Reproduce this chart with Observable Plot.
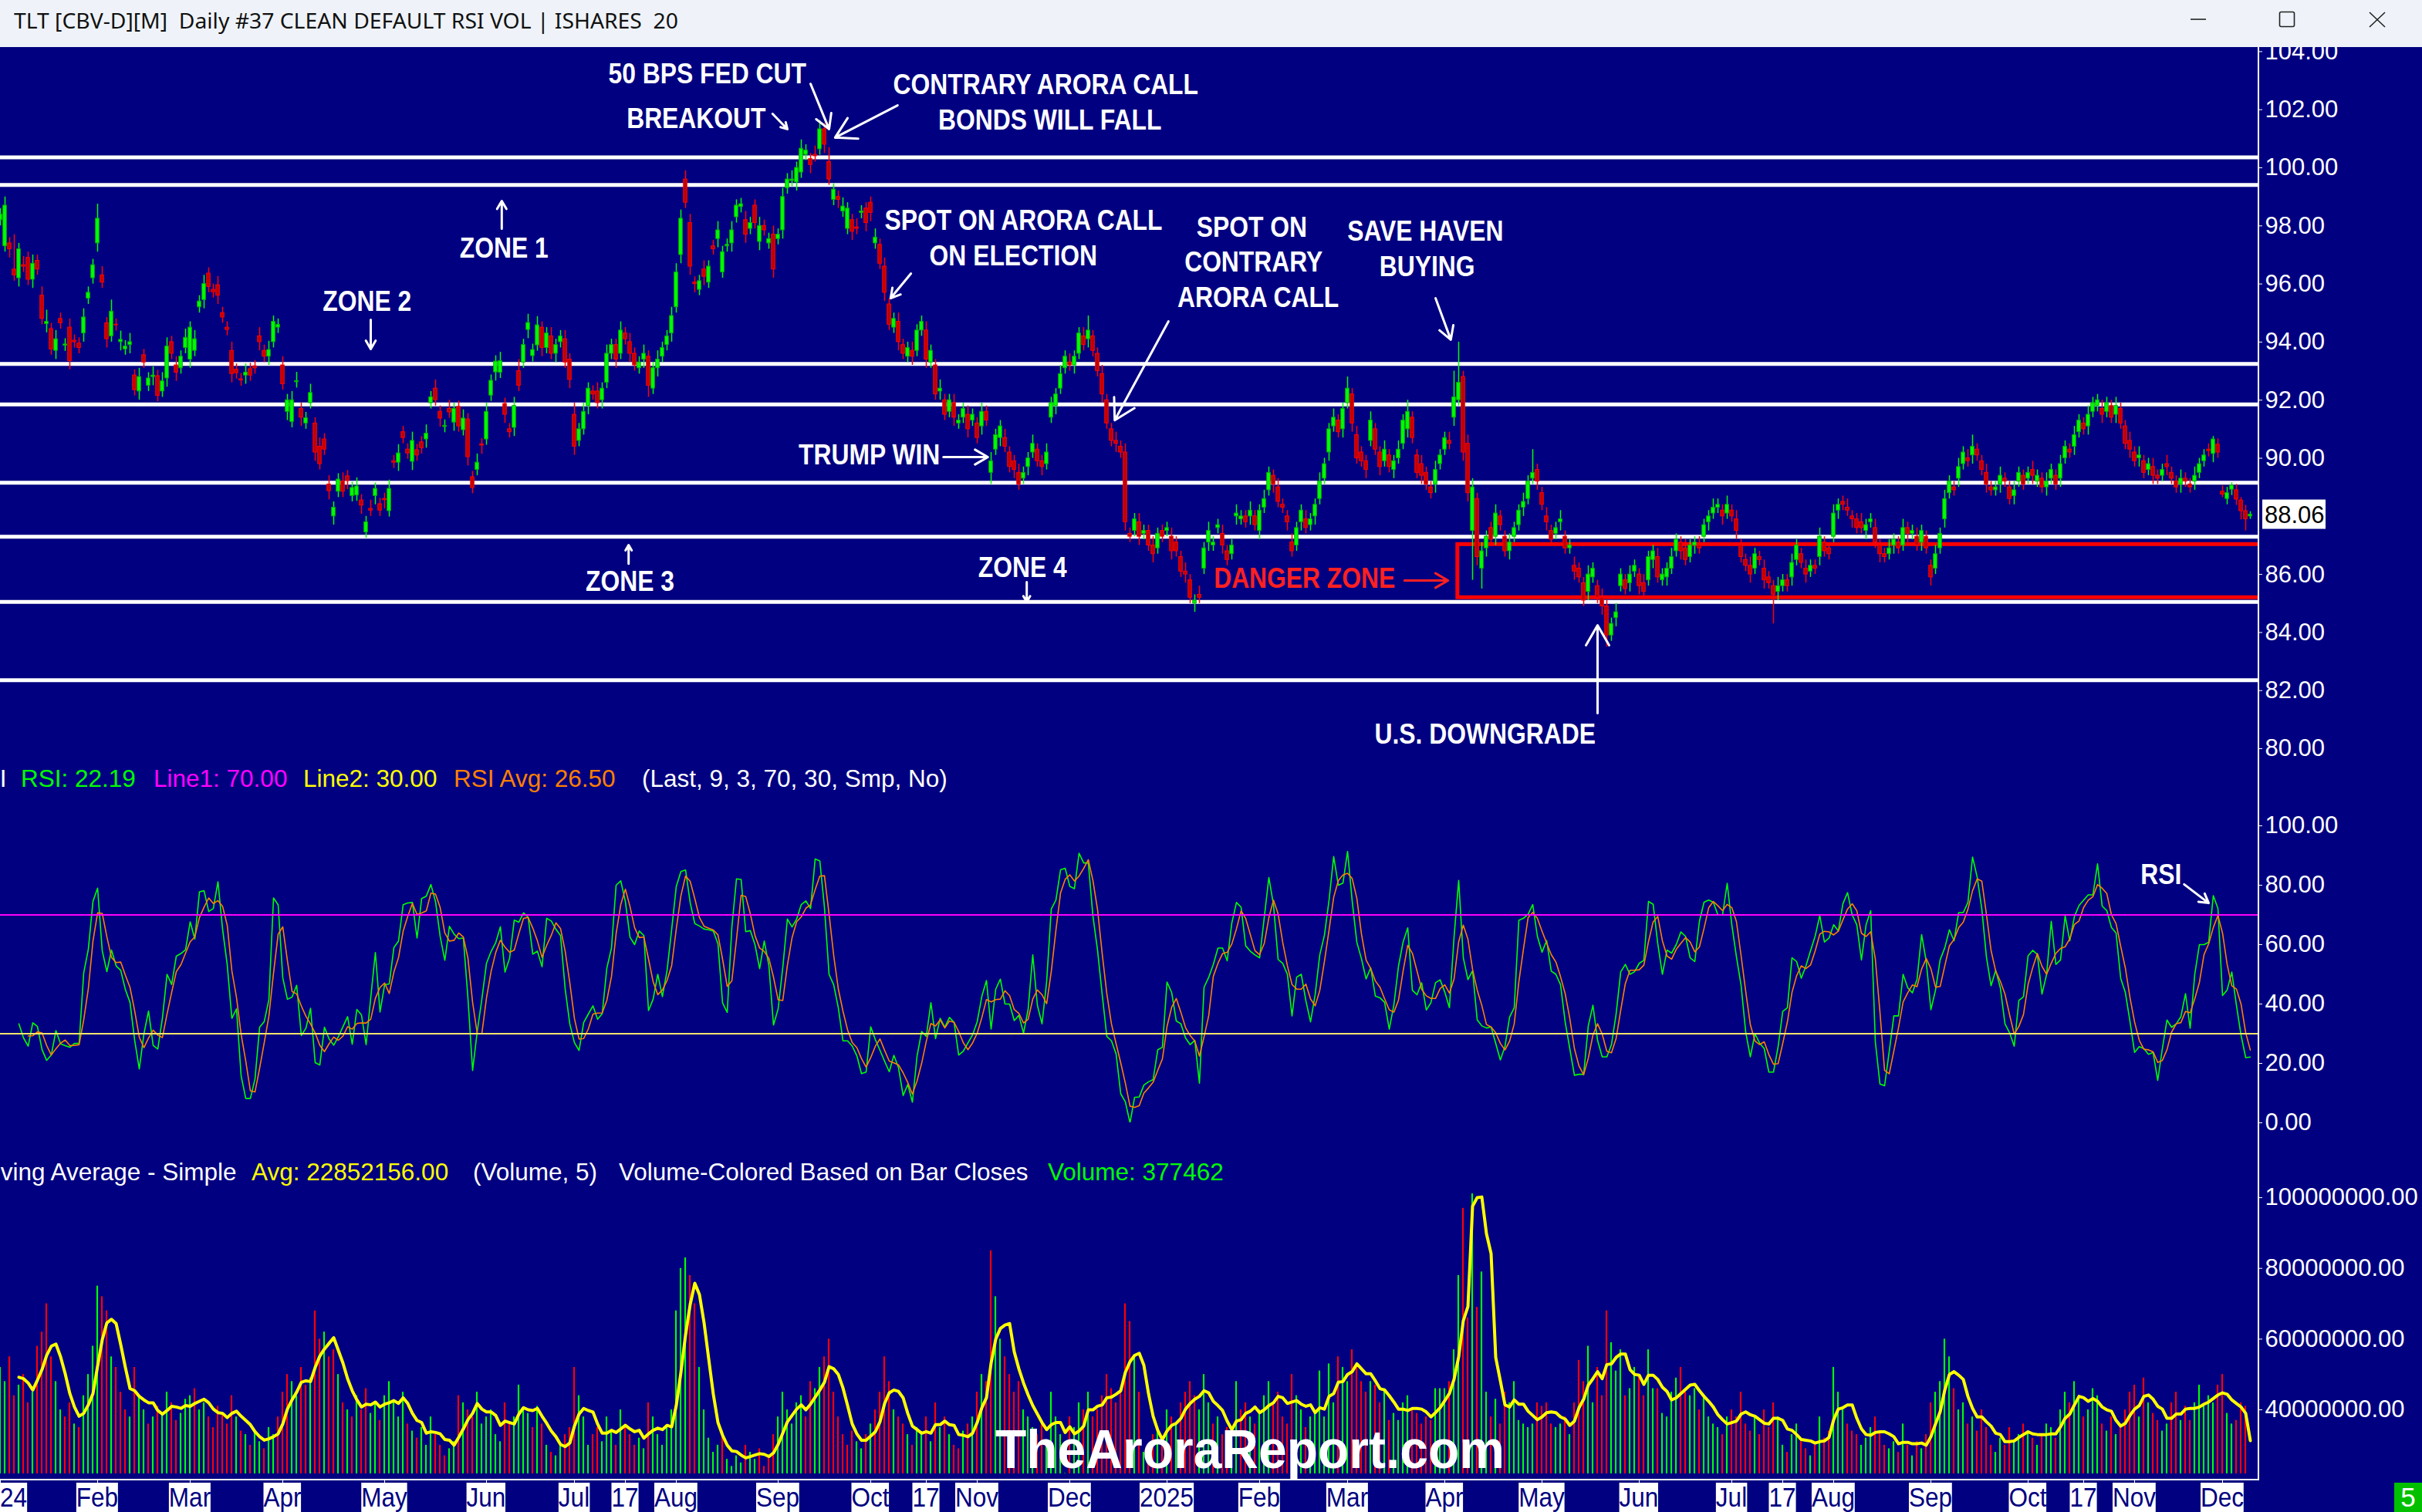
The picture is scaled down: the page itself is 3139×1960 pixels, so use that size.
<!DOCTYPE html>
<html>
<head>
<meta charset="utf-8">
<script src="https://cdn.jsdelivr.net/npm/d3@7"></script>
<script src="https://cdn.jsdelivr.net/npm/@observablehq/plot@0.6"></script>
<style>
  html, body { margin:0; padding:0; }
  body { width:3139px; height:1960px; background:#000080; position:relative; overflow:hidden; font-family:"Liberation Sans", Arial, sans-serif; }
  .abs { position:absolute; }
  #titlebar { left:0; top:0; width:3139px; height:61px; background:#eff3f9; z-index:5; }
  #title { left:18px; top:12px; font-family:"Noto Sans","Liberation Sans",sans-serif; font-size:28px; line-height:1; color:#111; white-space:pre; transform-origin:0 0; }
  .leg { font-size:31.5px; line-height:1; white-space:pre; }
  .xl { top:1922px; height:38px; line-height:38px; font-size:35px; color:#000080; background:#fff; white-space:pre; transform-origin:0 0; }
  .panel { left:0; width:3139px; }
</style>
</head>
<body>
<div id="titlebar" class="abs">
  <div id="title" class="abs">TLT [CBV-D][M]  Daily #37 CLEAN DEFAULT RSI VOL | ISHARES  20</div>
  <svg class="abs" style="left:2800px;top:0" width="339" height="61">
    <line x1="39" y1="25" x2="59" y2="25" stroke="#222" stroke-width="1.6"/>
    <rect x="154.5" y="15.5" width="19" height="19" rx="2" fill="none" stroke="#222" stroke-width="1.6"/>
    <line x1="271" y1="16" x2="291" y2="35" stroke="#222" stroke-width="1.6"/>
    <line x1="291" y1="16" x2="271" y2="35" stroke="#222" stroke-width="1.6"/>
  </svg>
</div>
<div id="price" class="abs panel" style="top:61px"></div>
<div id="rsi" class="abs panel" style="top:1030px"></div>
<div id="vol" class="abs panel" style="top:1540px"></div>

<script>
// ---------------- DATA ----------------
// Daily bars, 2 Jan 2024 .. 9 Dec 2025 (487 trading days)
const open = [
// 2024 Jan
98.2,97.3,97.4,96.5,96.2,96.65,96.9,96.15,96.8,95.6,94.62,94.45,93.7,94.8,93.88,94.5,94.05,93.95,94.3,95.5,96.2,
// Feb
97.4,96.3,94.65,94.2,94.6,94.0,93.75,93.9,92.85,92.3,93.55,92.5,92.8,92.83,92.3,92.75,94.0,93.2,93.1,93.8,
// Mar
93.4,93.7,95.2,95.45,96.36,95.8,95.96,95.0,94.5,93.7,93.05,92.72,92.85,93.07,93.17,94.2,93.7,93.5,94.0,94.5,
// Apr
93.2,91.6,91.25,92.62,91.7,91.2,91.9,91.2,90.4,90.65,89.1,88.0,88.85,89.2,89.38,88.7,88.72,88.55,87.45,88.26,88.7,88.42,
// May
88.6,88.18,89.9,89.85,90.9,90.3,89.88,90.28,90.55,90.65,91.9,92.4,91.6,91.08,91.7,91.23,91.77,90.97,91.34,89.35,89.6,90.48,
// Jun
90.65,92.16,92.96,92.95,91.87,91.0,91.05,93.0,93.3,94.42,93.52,93.89,94.5,93.8,94.2,93.6,94.0,94.1,93.4,
// Jul
91.5,90.6,91.0,91.8,92.3,92.3,92.0,92.6,93.6,93.9,93.6,94.3,94.0,93.6,93.1,93.4,93.5,92.4,93.1,93.5,93.9,94.3,
// Aug
95.2,97.0,99.6,98.1,96.05,95.8,96.5,96.05,97.3,97.55,96.4,97.3,97.4,98.3,98.65,98.2,97.9,98.7,97.45,98.0,97.4,97.7,
// Sep
97.55,97.85,99.3,99.55,99.5,99.84,100.45,100.3,100.45,100.64,101.33,100.2,98.9,99.0,98.5,97.9,98.2,97.95,98.45,98.6,
// Oct
98.8,97.4,97.35,96.6,95.3,94.5,94.7,93.9,93.5,93.7,93.7,94.4,94.4,93.3,93.2,92.3,92.0,91.6,91.9,91.2,91.4,91.5,91.3,
// Nov
91.2,91.1,91.6,89.5,90.3,90.7,90.7,90.2,89.9,89.5,89.3,89.7,90.2,90.3,89.9,89.8,91.4,91.8,92.4,93.1,
// Dec
93.3,93.2,93.6,94.2,94.1,94.2,93.6,92.9,92.0,91.0,90.6,90.4,90.2,87.4,87.5,87.8,87.4,87.5,87.0,86.9,87.5,
// 2025 Jan
87.5,87.3,87.1,86.6,86.1,85.8,85.0,85.3,86.2,87.1,87.0,87.6,87.4,86.8,86.7,88.0,87.9,88.0,88.0,88.0,
// Feb
87.5,88.3,88.9,89.4,89.0,88.4,88.0,87.1,87.0,87.8,87.9,87.7,88.0,88.6,89.3,90.2,91.1,91.3,91.0,
// Mar
91.9,92.2,90.8,90.2,89.9,90.6,91.0,90.2,89.9,90.1,89.6,90.0,90.5,91.0,91.4,90.1,89.8,89.5,89.0,89.1,89.8,
// Apr
90.3,90.6,91.4,92.0,92.8,90.5,87.5,88.6,86.2,86.9,87.6,87.3,88.0,87.3,86.8,87.3,87.7,88.3,88.6,89.3,89.6,
// May
88.8,88.0,87.5,87.4,87.8,87.3,86.9,86.3,86.2,85.7,85.4,85.9,85.6,85.2,84.9,83.9,84.5,85.6,85.8,85.7,86.1,
// Jun
86.0,85.7,85.8,86.5,86.6,85.8,85.9,86.2,86.8,87.1,86.9,86.6,87.0,87.0,87.3,87.8,88.1,88.3,88.2,88.1,
// Jul
88.2,87.9,87.0,86.5,86.3,86.2,86.6,86.2,85.9,85.6,85.4,85.6,85.8,85.9,86.5,86.7,86.2,86.1,86.3,86.6,87.1,86.9,
// Aug
87.3,88.2,88.5,88.3,88.0,87.9,87.8,87.5,87.8,87.6,87.0,86.7,86.7,87.0,87.1,87.0,87.6,87.4,87.3,87.1,87.3,
// Sep
86.3,86.2,86.9,87.9,88.8,89.0,89.3,89.8,90.0,90.1,90.3,89.9,89.5,89.0,88.9,89.1,89.3,89.0,88.7,89.2,89.4,
// Oct
89.3,89.6,89.2,89.3,89.0,89.3,89.4,89.3,90.0,90.3,90.4,90.9,91.2,91.1,91.6,91.8,91.7,91.6,91.8,91.5,91.7,91.1,90.6,
// Nov
90.2,90.0,89.9,89.6,89.7,89.4,89.4,89.8,89.5,89.2,89.1,89.3,89.1,89.2,89.5,89.9,90.3,90.15,90.47,
// Dec
88.85,88.6,88.92,88.9,88.55,88.18,88.0
];
const close = [
// 2024 Jan
98.4,98.7,97.2,96.3,97.2,96.6,96.15,96.7,96.5,94.8,94.7,93.75,94.1,94.65,93.92,93.35,94.0,93.8,94.85,95.7,96.65,
// Feb
98.25,96.05,94.1,95.05,94.58,94.08,93.85,94.0,92.35,92.8,93.3,92.75,92.85,92.15,92.65,93.85,93.6,92.95,93.5,94.15,
// Mar
94.5,94.1,95.4,96.0,95.9,95.72,95.6,94.85,94.42,92.9,92.93,92.68,92.95,92.85,93.1,94.0,93.5,93.73,94.7,94.6,
// Apr
92.55,92.0,92.0,92.66,91.4,91.38,92.25,90.2,89.8,90.3,88.87,88.3,89.27,88.85,89.22,88.98,89.03,88.37,87.8,88.2,88.95,88.2,
// May
88.56,88.95,89.85,90.17,90.7,90.17,90.6,90.1,90.35,90.85,92.1,92.0,91.37,91.12,91.58,91.7,91.1,91.37,90.04,88.98,89.85,90.44,
// Jun
91.6,92.67,93.33,93.35,91.5,90.9,91.8,92.5,93.9,94.66,93.73,94.58,93.8,94.3,93.6,93.9,94.2,93.3,92.7,
// Jul
90.4,91.0,91.6,92.4,92.2,91.9,92.4,93.6,93.9,93.4,94.4,94.1,93.6,93.2,93.3,93.6,92.5,93.1,93.4,93.8,94.2,94.9,
// Aug
96.4,98.25,98.8,96.6,96.0,96.1,96.25,96.6,97.2,97.85,97.1,97.35,97.85,98.7,98.75,97.7,98.1,98.1,98.0,97.85,97.55,96.5,
// Sep
97.7,99.0,99.6,99.6,100.0,100.66,100.6,100.1,100.4,101.33,100.8,99.6,99.25,98.9,98.67,98.6,97.8,97.9,98.5,98.1,
// Oct
98.45,97.6,96.7,95.7,94.6,94.8,94.0,93.6,93.8,93.5,94.4,94.7,93.4,93.7,92.2,92.4,91.5,92.0,91.4,91.3,91.7,91.0,91.5,
// Nov
90.7,91.6,91.3,89.9,90.8,91.1,90.4,89.7,89.6,89.1,89.5,90.0,90.5,89.9,89.7,90.2,91.9,92.2,92.9,93.5,
// Dec
93.2,93.5,94.3,93.9,94.4,93.7,93.0,92.2,91.2,90.6,90.5,90.2,87.8,87.3,87.9,87.3,87.5,87.0,86.7,87.4,87.3,
// 2025 Jan
87.6,86.8,86.8,86.1,86.0,85.2,85.1,85.2,86.9,87.5,87.1,87.7,87.0,86.5,87.0,88.1,88.0,87.8,88.2,87.7,
// Feb
88.2,88.6,89.5,89.1,88.5,88.3,87.8,86.8,87.6,88.2,87.6,87.9,88.4,89.2,89.8,91.0,91.4,90.9,91.7,
// Mar
92.4,91.2,90.0,89.9,89.6,91.3,90.3,89.7,90.3,89.7,89.9,90.3,91.3,91.6,90.7,89.5,89.4,89.1,88.8,89.6,90.1,
// Apr
90.7,90.5,92.1,92.6,90.2,88.8,89.0,86.6,86.8,87.3,87.2,88.1,87.7,86.8,87.1,87.6,88.2,88.5,89.2,89.5,89.2,
// May
88.4,87.8,87.2,87.6,87.9,86.9,87.0,86.1,85.9,85.1,86.0,86.2,85.2,84.9,83.9,84.3,84.7,86.0,85.5,86.0,86.3,
// Jun
85.6,85.4,86.6,86.8,85.9,86.0,86.2,86.6,87.2,86.8,86.5,87.0,87.1,86.9,87.7,88.0,88.3,88.4,88.0,88.4,
// Jul
88.0,87.5,86.6,86.3,86.0,86.7,86.5,85.8,85.7,85.3,85.6,85.8,85.6,86.4,87.0,86.4,86.0,86.3,86.2,87.3,86.8,86.7,
// Aug
88.1,88.4,88.4,88.2,87.9,87.6,87.6,87.7,87.9,87.1,86.7,86.6,86.9,87.2,86.9,87.6,87.4,87.5,87.0,87.5,86.9,
// Sep
85.9,86.7,87.4,88.6,89.2,88.9,89.7,90.2,89.9,90.4,90.1,89.6,89.1,88.9,89.0,89.4,89.2,88.6,88.9,89.5,89.1,
// Oct
89.5,89.4,89.4,89.0,89.2,89.6,89.1,89.8,90.4,90.2,90.8,91.3,91.0,91.5,91.9,92.0,91.5,91.9,91.4,91.8,91.2,90.5,90.3,
// Nov
89.9,90.1,89.5,89.8,89.4,89.3,89.6,89.7,89.3,89.0,89.3,89.2,89.0,89.4,89.8,90.1,90.25,90.65,90.2,
// Dec
88.75,88.8,89.06,88.58,88.18,87.9,88.06
];
// wick lengths above / below the body, in tenths of a dollar
const wickUp = [
2,3,2,12,2,3,2,3,2,3,4,2,3,2,2,3,2,2,3,2,2,
5,3,2,4,2,3,2,3,2,3,2,2,3,2,3,3,2,3,2,3,
2,3,2,3,2,2,3,2,2,3,2,2,3,2,2,3,2,3,2,2,
3,2,3,3,2,2,3,2,3,2,3,2,2,3,2,2,3,2,2,3,2,2,
2,3,2,3,2,2,3,2,2,3,2,3,2,2,3,2,2,3,2,2,3,2,
3,2,2,3,2,2,3,4,2,3,2,3,2,2,3,2,2,3,2,
4,2,3,2,2,3,2,3,2,2,3,2,3,2,2,3,2,2,3,2,2,3,
3,3,3,3,2,2,3,2,2,3,2,2,3,2,2,3,2,2,3,2,2,3,
2,3,2,3,2,3,2,2,3,3,2,5,2,2,3,2,2,3,2,2,
2,3,2,3,2,2,3,2,2,3,2,2,3,2,2,3,2,2,3,2,2,3,2,
2,3,2,3,2,2,3,2,2,3,2,2,3,2,2,3,2,2,3,2,
3,2,2,3,5,2,2,3,2,2,3,2,3,2,2,3,2,2,3,2,2,
2,3,2,2,3,2,2,3,2,3,2,2,3,2,2,3,2,2,3,2,
2,3,2,2,3,2,2,3,2,2,3,2,2,3,2,2,3,2,2,
4,2,3,2,2,3,2,2,3,2,2,3,2,4,2,2,3,2,2,3,2,
2,3,9,14,2,3,3,2,3,2,2,3,2,2,3,2,2,3,2,8,2,
2,3,2,2,3,2,2,3,2,2,3,2,2,3,2,2,3,2,2,3,2,
2,3,2,2,3,2,2,3,2,2,3,2,2,3,2,2,3,2,2,3,
2,3,2,2,3,2,2,3,2,2,3,2,2,3,2,2,3,2,2,3,2,2,
3,2,2,3,2,2,3,2,2,3,2,2,3,2,2,3,2,2,3,2,2,
2,3,2,3,2,2,3,2,3,4,2,2,3,2,2,3,2,2,3,2,2,
2,3,2,2,3,2,2,3,2,2,3,2,2,3,2,2,3,2,2,3,2,2,3,
2,3,2,2,3,2,2,3,2,2,3,2,2,3,2,2,2,1,2,
2,2,1,2,1,2,1
];
const wickDn = [
2,2,3,2,3,2,2,3,2,2,3,2,3,2,2,3,2,2,3,2,2,
3,2,3,2,2,3,2,3,2,3,2,2,3,2,2,3,2,3,2,2,
3,2,2,3,2,2,3,2,2,3,2,2,3,2,2,3,2,3,2,2,
2,3,2,2,3,2,2,3,2,2,3,3,2,2,3,2,2,3,2,2,3,2,
3,2,2,3,2,2,3,2,2,3,2,2,3,2,2,3,2,2,3,2,2,3,
2,2,3,2,3,2,3,2,2,3,2,2,3,2,2,3,2,2,3,
3,2,2,3,2,2,3,2,2,3,2,2,3,2,2,3,4,2,3,2,2,3,
2,3,2,3,3,2,3,2,2,3,2,2,3,2,2,3,2,2,3,2,2,3,
2,3,2,2,3,2,2,3,2,2,3,2,2,3,2,2,3,2,2,3,
3,2,2,3,2,2,3,2,2,3,2,2,3,2,2,3,2,2,3,2,2,3,2,
2,3,2,4,2,3,2,2,3,2,2,3,2,2,3,2,2,3,2,2,
2,3,2,2,3,2,2,3,2,2,3,2,3,2,2,3,2,2,3,2,2,
2,3,2,2,3,2,3,2,2,3,2,2,3,2,2,3,2,2,3,2,
3,2,2,3,2,2,3,2,2,3,2,2,3,2,2,3,2,2,3,
2,3,2,2,3,2,2,3,2,2,3,2,2,3,2,2,3,2,2,3,2,
2,2,3,2,3,3,17,3,7,3,2,3,2,2,3,2,2,3,2,2,3,
2,3,2,2,3,2,2,3,2,2,3,2,2,3,4,2,3,2,2,3,2,
3,2,2,3,2,2,3,2,2,3,2,2,3,2,2,3,2,2,3,2,
2,3,2,2,3,2,2,3,2,10,3,2,2,3,2,2,3,2,2,3,2,2,
2,3,2,2,3,2,2,3,2,2,3,2,2,3,2,2,3,2,2,3,2,
3,2,2,3,2,2,3,2,2,3,2,2,3,2,2,3,2,2,3,2,2,
2,3,2,2,3,2,2,3,2,2,3,2,2,3,2,2,3,2,2,3,2,2,3,
2,3,2,2,3,2,2,3,2,2,3,2,2,3,2,2,2,3,2,
1,2,2,2,3,4,1
];
// daily volume, millions of shares
const volume = [
52,48,55,44,47,50,42,45,58,62,70,55,48,40,38,42,36,35,44,50,58,
75,72,68,55,52,45,40,38,52,44,40,36,38,41,39,45,42,37,39,43,
44,46,40,42,38,35,41,39,36,44,38,34,33,30,34,31,29,35,33,38,
45,50,48,44,52,47,49,68,60,62,55,57,50,42,40,38,44,40,46,39,42,37,
44,48,42,38,45,36,34,32,35,30,38,33,30,27,29,31,44,42,40,38,45,36,
38,40,33,31,42,36,38,47,40,39,35,41,36,30,28,27,30,33,35,
52,44,38,30,33,35,31,38,34,30,40,36,33,30,32,29,42,38,33,30,35,40,
68,80,83,78,70,52,40,32,28,30,34,26,24,27,25,30,28,26,29,24,27,33,
38,45,40,36,42,44,38,48,46,52,55,60,45,38,33,30,34,31,29,33,
36,40,45,55,48,40,38,36,33,30,35,33,38,31,42,35,38,33,30,29,34,36,38,
45,50,48,85,72,60,55,50,45,48,40,38,35,33,36,30,45,38,33,22,
38,35,42,40,45,38,40,44,50,46,42,45,70,65,55,45,28,30,33,35,32,
40,38,36,42,45,48,44,40,50,42,36,38,33,35,30,48,40,42,38,36,
40,44,48,42,45,38,36,50,44,40,35,38,39,51,38,53,42,55,52,
48,57,53,48,45,48,47,42,46,37,39,37,42,44,40,39,36,38,37,46,46,
46,48,57,78,97,66,190,69,79,45,38,43,36,45,42,48,37,36,35,36,42,
41,42,36,35,36,38,33,42,54,48,58,42,52,44,68,59,51,57,44,46,52,
50,44,57,46,46,39,38,45,49,52,45,44,46,40,44,38,36,35,33,38,
40,38,45,36,34,38,33,40,35,42,38,30,28,33,36,31,29,27,30,38,32,34,
52,45,40,36,34,33,30,32,35,38,34,30,29,31,28,36,30,27,31,29,33,
42,45,48,60,55,46,40,42,36,38,34,40,35,30,28,32,30,35,31,33,36,
34,32,30,33,36,35,32,40,45,42,48,44,38,40,46,44,36,34,38,33,36,40,45,
47,38,49,42,39,37,34,36,42,45,37,41,37,42,47,41,44,42,47,
50,39,36,37,42,41,0.38
];
// x-axis labels and the bar index where each sits
const tickLabels = ["2024","Feb","Mar","Apr","May","Jun","Jul","17","Aug","Sep","Oct","17","Nov","Dec",
                    "2025","Feb","Mar","Apr","May","Jun","Jul","17","Aug","Sep","Oct","17","Nov","Dec"];
const tickBars   = [0,21,41,61,83,105,124,135,146,168,188,200,211,231,252,272,291,312,333,354,374,385,396,417,438,450,461,480];
// horizontal support / resistance levels
const levels = [100.36, 99.41, 93.25, 91.85, 89.16, 87.30, 85.05, 82.36];
const dangerZone = [{x1: 314.8, x2: 492, y1: 85.2, y2: 87.03}];
const priceTicks = [80,82,84,86,90,92,94,96,98,100,102,104];
const rsiTicks = [0,20,40,60,80,100];
const volTicks = [40,60,80,100];
// annotations (bar index, price)
const notes = [
 {t:"50 BPS FED CUT", x:152.7, y:103.21},
 {t:"BREAKOUT", x:150.3, y:101.67},
 {t:"CONTRARY ARORA CALL", x:225.8, y:102.84},
 {t:"BONDS WILL FALL", x:226.7, y:101.62},
 {t:"SPOT ON ARORA CALL", x:221, y:98.17},
 {t:"ON ELECTION", x:218.8, y:96.95},
 {t:"SPOT ON", x:270.3, y:97.95},
 {t:"CONTRARY", x:270.7, y:96.73},
 {t:"ARORA CALL", x:271.7, y:95.51},
 {t:"SAVE HAVEN", x:307.8, y:97.80},
 {t:"BUYING", x:308.2, y:96.57},
 {t:"ZONE 1", x:108.8, y:97.21},
 {t:"ZONE 2", x:79.2, y:95.40},
 {t:"ZONE 3", x:136, y:85.74},
 {t:"ZONE 4", x:220.8, y:86.22},
 {t:"TRUMP WIN", x:187.7, y:90.09},
 {t:"DANGER ZONE", x:281.7, y:85.84, c:"#ff2020"},
 {t:"U.S. DOWNGRADE", x:320.7, y:80.48}
];
const noteArrows = [
 {x1:166.8, y1:101.86, x2:170.0, y2:101.33},
 {x1:175.0, y1:102.89, x2:179.0, y2:101.33},
 {x1:193.8, y1:102.15, x2:180.3, y2:101.04},
 {x1:196.7, y1:96.36, x2:192.3, y2:95.51},
 {x1:252.3, y1:94.71, x2:240.7, y2:91.31},
 {x1:310.0, y1:95.51, x2:313.3, y2:94.08},
 {x1:108.3, y1:97.90, x2:108.3, y2:98.86},
 {x1:80.0, y1:94.77, x2:80.0, y2:93.76},
 {x1:135.7, y1:86.37, x2:135.7, y2:87.01},
 {x1:221.7, y1:85.74, x2:221.7, y2:85.05},
 {x1:203.7, y1:90.04, x2:213.3, y2:90.04},
 {x1:303.3, y1:85.79, x2:312.7, y2:85.79, c:"#ff2020"},
 {x1:345.0, y1:81.22, x2:345.0, y2:84.25}
];
const rsiNote = [{t:"RSI", x:466.7, y:83.4}];
const rsiArrow = [{x1:471.7, y1:80.3, x2:477.0, y2:74.0}];

// ---------------- BUILD ----------------
const N = close.length;
[open, wickUp, wickDn, volume].forEach((a, k) => { if (a.length !== N) console.warn("length mismatch", k, a.length, N); });

// RSI with simple ("Smp") averaging of gains and losses over n bars
function simpleRSI(cl, n, minBars) {
  return cl.map((_, i) => {
    if (i < minBars) return NaN;
    let g = 0, l = 0;
    for (let k = Math.max(1, i - n + 1); k <= i; k++) {
      const d = cl[k] - cl[k-1];
      if (d > 0) g += d; else l -= d;
    }
    return g + l === 0 ? 50 : 100 * g / (g + l);
  });
}
function sma(arr, n) {
  return arr.map((_, i) => {
    if (i < n - 1) return NaN; let s = 0;
    for (let k = i - n + 1; k <= i; k++) { if (isNaN(arr[k])) return NaN; s += arr[k]; }
    return s / n;
  });
}
const rsi = simpleRSI(close, 9, 4);
const rsiAvg = sma(rsi, 3);
const vma = sma(volume, 5);

const bars = close.map((c, i) => {
  const o = open[i];
  return {
    i, open: o, close: c,
    high: Math.max(o, c) + (wickUp[i] || 0) / 10,
    low: Math.min(o, c) - (wickDn[i] || 0) / 10,
    up: c >= o,
    vol: volume[i],
    volUp: i === 0 ? c >= o : c >= close[i-1],
    rsi: rsi[i], rsiAvg: rsiAvg[i], vma: vma[i]
  };
});

const W = 3139, MR = 212;
const xDomain = [0, (W - MR) / 6];
const FONT = "'Liberation Sans', Arial, sans-serif";
const baseStyle = {background: "transparent", color: "white", fontFamily: FONT, overflow: "visible"};

// price panel
const priceChart = Plot.plot({
  width: W, height: 934, marginLeft: 0, marginRight: MR, marginTop: 5.4, marginBottom: 25,
  x: {domain: xDomain, axis: null}, y: {domain: [80, 104], axis: null},
  color: {type: "identity"},
  style: baseStyle,
  marks: [
    Plot.ruleY(levels, {stroke: "white", strokeWidth: 5}),
    Plot.rect(dangerZone, {x1: "x1", x2: "x2", y1: "y1", y2: "y2", fill: "none", stroke: "#ff0000", strokeWidth: 5, clip: true}),
    Plot.ruleX(bars, {x: "i", y1: "low", y2: "high", stroke: d => d.up ? "#00ff00" : "#ff0000", strokeWidth: 1.5, clip: true}),
    Plot.rect(bars, {x1: d => d.i - 0.38, x2: d => d.i + 0.38, y1: "open", y2: "close",
      fill: d => d.up ? "#00ff00" : "#c00000", stroke: d => d.up ? "#00b000" : "#ff0000", strokeWidth: 1, clip: true}),
    Plot.axisY({anchor: "right", ticks: priceTicks, tickFormat: d => d.toFixed(2), tickSize: 4, tickPadding: 4, fontSize: 31}),
    Plot.arrow(noteArrows, {x1: "x1", y1: "y1", x2: "x2", y2: "y2", stroke: d => d.c || "white", strokeWidth: 3, headLength: 15, headAngle: 60}),
    Plot.text(notes, {x: "x", y: "y", text: "t", fill: d => d.c || "white", fontSize: 37, fontWeight: "bold", fontFamily: FONT})
  ]
});
document.getElementById("price").appendChild(priceChart);

// RSI panel
const rsiChart = Plot.plot({
  width: W, height: 450, marginLeft: 0, marginRight: MR, marginTop: 40, marginBottom: 25,
  x: {domain: xDomain, axis: null}, y: {domain: [0, 100], axis: null},
  color: {type: "identity"},
  style: baseStyle,
  marks: [
    Plot.line(bars, {x: "i", y: "rsi", stroke: "#00ff00", strokeWidth: 1.6, clip: true}),
    Plot.line(bars, {x: "i", y: "rsiAvg", stroke: "#ff8000", strokeWidth: 1.6, clip: true}),
    Plot.ruleY([70], {stroke: "#ff00ff", strokeWidth: 2}),
    Plot.ruleY([30], {stroke: "#f2e56a", strokeWidth: 2}),
    Plot.axisY({anchor: "right", ticks: rsiTicks, tickFormat: d => d.toFixed(2), tickSize: 4, tickPadding: 4, fontSize: 31}),
    Plot.arrow(rsiArrow, {x1: "x1", y1: "y1", x2: "x2", y2: "y2", stroke: "white", strokeWidth: 3, headLength: 13, headAngle: 60}),
    Plot.text(rsiNote, {x: "x", y: "y", text: "t", fill: "white", fontSize: 37, fontWeight: "bold", fontFamily: FONT})
  ]
});
document.getElementById("rsi").appendChild(rsiChart);

// volume panel
const VMIN = 21.9;
const volChart = Plot.plot({
  width: W, height: 420, marginLeft: 0, marginRight: MR, marginTop: 7, marginBottom: 50,
  x: {domain: xDomain, axis: null}, y: {domain: [VMIN, 101.1], axis: null},
  color: {type: "identity"},
  style: baseStyle,
  marks: [
    Plot.rect(bars, {x1: d => d.i - 0.18, x2: d => d.i + 0.18, y1: VMIN, y2: "vol", fill: d => d.volUp ? "#00ff00" : "#ff0000", clip: true}),
    Plot.line(bars, {x: "i", y: "vma", stroke: "#ffff00", strokeWidth: 4, clip: true}),
    Plot.axisY({anchor: "right", ticks: volTicks, tickFormat: d => (d * 1e6).toFixed(2), tickSize: 4, tickPadding: 4, fontSize: 31})
  ]
});
document.getElementById("vol").appendChild(volChart);

// condensed bold annotation text
for (const svg of [priceChart, rsiChart]) {
  for (const t of svg.querySelectorAll('g[font-weight="bold"] text')) {
    const w = t.getComputedTextLength();
    t.setAttribute("textLength", (w * 0.86).toFixed(1));
    t.setAttribute("lengthAdjust", "spacingAndGlyphs");
  }
}

// last price box
{
  const last = close[N - 1];
  const yy = priceChart.scale("y").apply(last);
  const g = d3.select(priceChart).append("g").attr("text-anchor", "start");
  g.append("rect").attr("x", 2932).attr("y", yy - 19).attr("width", 82).attr("height", 38).attr("fill", "white");
  g.append("text").attr("x", 2935).attr("y", yy).attr("dy", "0.36em").attr("font-size", 31).attr("fill", "black")
    .attr("text-anchor", "start").attr("font-family", FONT).text(last.toFixed(2));
}

// watermark
{
  const t = d3.select(volChart).append("text").attr("x", 1620).attr("y", 1903 - 1540).attr("text-anchor", "middle")
    .attr("font-size", 71).attr("font-weight", "bold").attr("fill", "white").attr("font-family", FONT).text("TheAroraReport.com");
  t.attr("textLength", 660).attr("lengthAdjust", "spacingAndGlyphs");
}

// frame lines
function addDiv(style, text, cls) {
  const d = document.createElement("div"); d.className = "abs" + (cls ? " " + cls : "");
  Object.assign(d.style, style); if (text != null) d.textContent = text; document.body.appendChild(d); return d;
}
addDiv({left: "2926px", top: "61px", width: "2px", height: "1858px", background: "#fff"});
addDiv({left: "0px", top: "1917px", width: "2928px", height: "2px", background: "#fff"});

// x-axis labels
const xs = volChart.scale("x");
tickLabels.forEach((lab, k) => {
  const px = xs.apply(tickBars[k]);
  addDiv({left: (px - 0.5) + "px", top: "1918px", width: "1px", height: "5px", background: "#fff"});
  addDiv({left: px + "px", transform: "scaleX(0.9) translateX(-50%)"}, lab, "xl");
});

// legends
function leg(left, top, color, text) { addDiv({left: left + "px", top: top + "px", color}, text, "leg"); }
leg(-44, 994, "#fff", "RSI");
leg(27, 994, "#00ff00", "RSI: 22.19");
leg(199, 994, "#ff00ff", "Line1: 70.00");
leg(393, 994, "#ffff00", "Line2: 30.00");
leg(588, 994, "#ff8000", "RSI Avg: 26.50");
leg(832, 994, "#fff", "(Last, 9, 3, 70, 30, Smp, No)");
leg(-43, 1504, "#fff", "Moving Average - Simple");
leg(326, 1504, "#ffff00", "Avg: 22852156.00");
leg(613, 1504, "#fff", "(Volume, 5)");
leg(802, 1504, "#fff", "Volume-Colored Based on Bar Closes");
leg(1358, 1504, "#00ff00", "Volume: 377462");

// bottom-right green box
addDiv({left: "3103px", top: "1922px", width: "36px", height: "38px", background: "#00c000", color: "#fff",
  fontSize: "35px", lineHeight: "38px", textAlign: "center"}, "5");

// title width
{
  const t = document.getElementById("title");
  const w = t.getBoundingClientRect().width;
  t.style.transform = `scaleX(${861 / w})`;
}
</script>
</body>
</html>
